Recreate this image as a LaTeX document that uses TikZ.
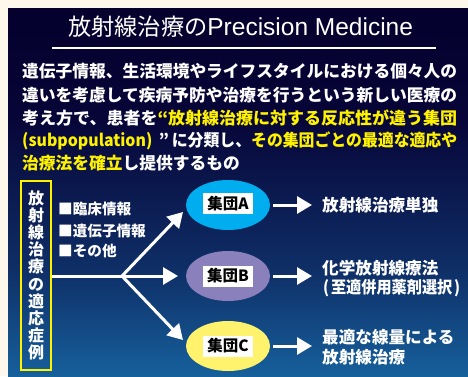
\documentclass[tikz,border=0pt]{standalone}
\usepackage{fontspec}
\usepackage{graphicx}
\setmainfont{Noto Sans CJK JP}
\newfontfamily\latinsans{Liberation Sans}
\usetikzlibrary{arrows.meta,shapes.geometric}
\definecolor{cream}{HTML}{FDF8EB}
\definecolor{bgA}{HTML}{05002C}
\definecolor{bgB}{HTML}{070538}
\definecolor{bgC}{HTML}{0F3068}
\definecolor{bgD}{HTML}{16609C}
\definecolor{hl}{HTML}{FFF200}
\definecolor{ellA}{HTML}{00ADEE}
\definecolor{ellB}{HTML}{8A80BC}
\definecolor{ellC}{HTML}{FFF36E}
\pgfdeclareverticalshading{panelshade}{100bp}{color(0bp)=(bgD); color(25bp)=(bgD); color(39bp)=(bgC); color(60bp)=(bgB); color(75bp)=(bgA); color(100bp)=(bgA)}
\newcommand{\fitline}[1]{\resizebox{435pt}{\height}{#1}}
\tikzset{
  body/.style={anchor=west, inner sep=0pt, text=white, font=\fontsize{16.75}{18}\selectfont\bfseries},
  bullet/.style={anchor=west, inner sep=0pt, text=white, font=\fontsize{14.6}{16}\selectfont\bfseries},
  result/.style={anchor=west, inner sep=0pt, text=white, font=\fontsize{16.6}{18}\selectfont\bfseries},
  group/.style={ellipse, minimum width=84pt, minimum height=50pt, inner sep=0pt},
  glabel/.style={fill=white, text=black, minimum width=50pt, minimum height=21pt, inner sep=0pt, font=\fontsize{15.5}{16}\selectfont\bfseries},
  bigarrow/.style={white, line width=3pt, -{Triangle[length=15pt,width=17pt]}},
  plainline/.style={white, line width=3pt},
}
\begin{document}
\begin{tikzpicture}[x=1pt,y=-1pt]
\useasboundingbox (0,0) rectangle (468,376);
\fill[cream] (0,0) rectangle (468,376);
\shade[shading=panelshade] (8,8) rectangle (468,376);
% title
\node[text=white, inner sep=0pt, anchor=west] (title) at (68,27)
  {\fontsize{23.2}{24}\selectfont 放射線治療の{\latinsans\fontsize{24.5}{24}\selectfont Precision Medicine}};
\coordinate (ulL) at (52,48);
\coordinate (ulR) at (436,48);
\draw[white, line width=2.5pt] (ulL) -- (ulR);
% body text
\node[body] (l1) at (22,71) {\fitline{遺伝子情報、生活環境やライフスタイルにおける個々人の}};
\node[body] (l2) at (22,95) {\fitline{違いを考慮して疾病予防や治療を行うという新しい医療の}};
\node[body] (l3) at (22,118) {\fitline{考え方で、患者を\textcolor{hl}{“放射線治療に対する反応性が違う集団}}};
\node[body] (l4) at (22,141) {\fitline{\textcolor{hl}{(subpopulation)}\hspace{7pt}”\hspace{3pt}に分類し、\textcolor{hl}{その集団ごとの最適な適応や}}};
\node[body] (l5) at (22,163) {\textcolor{hl}{治療法を確立}し提供するもの};
% left box
\node[draw=hl, line width=2pt, minimum width=30pt, minimum height=189pt, inner sep=0pt, text=white,
      font=\fontsize{16}{17.2}\selectfont\bfseries, align=center] (box) at (36,275.5)
  {放\\射\\線\\治\\療\\の\\適\\応\\症\\例};
% bullets
\node[bullet] (b1) at (58,209) {■臨床情報};
\node[bullet] (b2) at (58,230.5) {■遺伝子情報};
\node[bullet] (b3) at (58,251) {■その他};
% groups
\node[group, fill=ellA] (gA) at (228,205) {};
\node[group, fill=ellB] (gB) at (228,276) {};
\node[group, fill=ellC] (gC) at (228,346) {};
\node[glabel] (tA) at (228,203.5) {集団A};
\node[glabel] (tB) at (228,276) {集団B};
\node[glabel] (tC) at (228,346) {集団C};
% branching arrows
\coordinate (fork) at (122,276);
\coordinate (endA) at (183,212);
\coordinate (endB) at (178,276);
\coordinate (endC) at (183,340);
\draw[plainline] (box.east |- fork) -- (fork);
\draw[bigarrow] (fork) -- (endA);
\draw[bigarrow] (fork) -- (endB);
\draw[bigarrow] (fork) -- (endC);
% results
\node[result] (rA) at (322,205) {放射線治療単独};
\node[result] (rB1) at (322,268) {化学放射線療法};
\node[result] (rB2) at (323,288) {\resizebox{137pt}{\height}{(\hspace{2pt}至適併用薬剤選択\hspace{2pt})}};
\node[result] (rC1) at (322,337) {最適な線量による};
\node[result] (rC2) at (322,357) {放射線治療};
\coordinate (eA) at (312,205);
\coordinate (eB) at (312,276);
\coordinate (eC) at (312,346);
\draw[bigarrow] (gA.east) ++(3,0) coordinate (sA) -- (eA);
\draw[bigarrow] (gB.east) ++(3,0) coordinate (sB) -- (eB);
\draw[bigarrow] (gC.east) ++(3,0) coordinate (sC) -- (eC);
\end{tikzpicture}
\end{document}
